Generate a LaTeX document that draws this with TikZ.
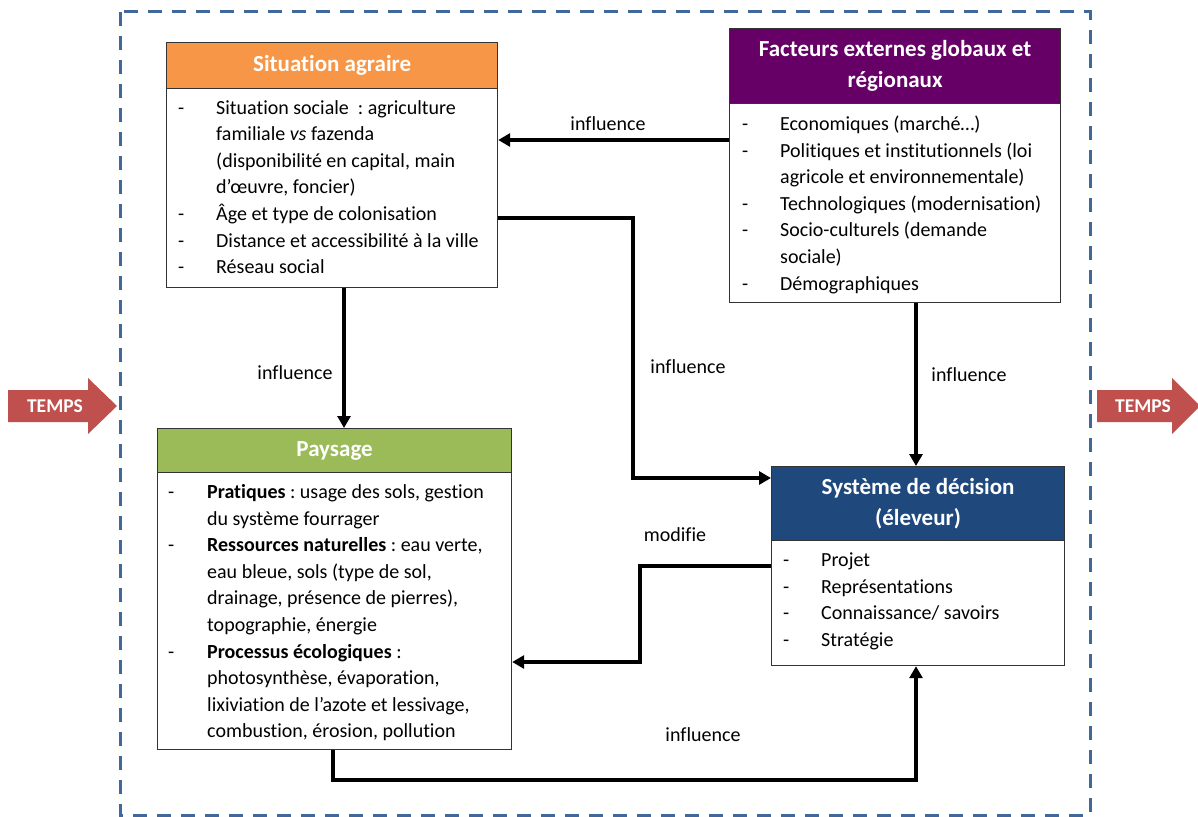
\documentclass[tikz,border=0pt]{standalone}
\usepackage{fontspec}
\setmainfont{Carlito}[Ligatures=NoCommon]
\usetikzlibrary{arrows.meta}
\definecolor{cOr}{HTML}{F79646}
\definecolor{cPu}{HTML}{660066}
\definecolor{cGr}{HTML}{9BBB59}
\definecolor{cNa}{HTML}{1F497D}
\definecolor{cRe}{HTML}{C0504D}
\definecolor{cDa}{HTML}{41689A}
\frenchspacing
\begin{document}
\begin{tikzpicture}[x=1pt,y=-1pt,
  hdr/.style={draw=black!80, line width=1.2pt, text=white, font=\fontsize{23}{31}\selectfont\bfseries, align=center, inner sep=0pt, anchor=north west},
  bodybox/.style={draw=black!80, line width=1.2pt, fill=white, inner sep=0pt, anchor=north west},
  txt/.style={anchor=base west, inner sep=0pt, font=\fontsize{20}{26.6}\selectfont},
  lbl/.style={font=\fontsize{20}{24}\selectfont, inner sep=0pt},
  arr/.style={line width=3.5pt, -{Triangle[length=12pt,width=13pt]}},
  temps/.style={fill=cRe},
  tempstxt/.style={text=white, font=\fontsize{19.5}{21}\selectfont\bfseries, inner sep=0pt}
]
\useasboundingbox (0,0) rectangle (1198,816);
% dashed frame
\draw[cDa, line width=3pt, dash pattern=on 14pt off 10pt] (120,12) rectangle (1090,815);

% TEMPS arrows
\fill[temps] (8,390) -- (88,390) -- (88,378) -- (117,406) -- (88,434) -- (88,422) -- (8,422) -- cycle;
\node[tempstxt] (t1) at (55,406) {TEMPS};
\fill[temps] (1097,390) -- (1172,390) -- (1172,378) -- (1200,406) -- (1172,434) -- (1172,422) -- (1097,422) -- cycle;
\node[tempstxt] (t2) at (1143,406) {TEMPS};

% Box 1: Situation agraire
\node[hdr, fill=cOr, minimum width=331pt, minimum height=46pt] (h1) at (166,42) {Situation agraire};
\node[bodybox, minimum width=331pt, minimum height=199pt] (b1) at (166,88) {};
\node[txt] (x1) at (178,114) {\begin{tabular}[t]{@{}p{38pt}@{}l@{}}
- & Situation sociale\ \ : agriculture\\
  & familiale \textit{vs} fazenda\\
  & (disponibilité en capital, main\\
  & d’œuvre, foncier)\\
- & Âge et type de colonisation\\
- & Distance et accessibilité à la ville\\
- & Réseau social
\end{tabular}};

% Box 2: Facteurs externes
\node[hdr, fill=cPu, minimum width=331pt, minimum height=75pt] (h2) at (729,28) {Facteurs externes globaux et\\régionaux};
\node[bodybox, minimum width=331pt, minimum height=199pt] (b2) at (729,103) {};
\node[txt] (x2) at (742,130.5) {\begin{tabular}[t]{@{}p{38pt}@{}l@{}}
- & Economiques (marché…)\\
- & Politiques et institutionnels (loi\\
  & agricole et environnementale)\\
- & Technologiques (modernisation)\\
- & Socio-culturels (demande\\
  & sociale)\\
- & Démographiques
\end{tabular}};

% Box 3: Paysage
\node[hdr, fill=cGr, minimum width=354pt, minimum height=44pt] (h3) at (157,428) {Paysage};
\node[bodybox, minimum width=354pt, minimum height=277pt] (b3) at (157,472) {};
\node[txt] (x3) at (168,498.5) {\begin{tabular}[t]{@{}p{39pt}@{}l@{}}
- & \textbf{Pratiques} : usage des sols, gestion\\
  & du système fourrager\\
- & \textbf{Ressources naturelles} : eau verte,\\
  & eau bleue, sols (type de sol,\\
  & drainage, présence de pierres),\\
  & topographie, énergie\\
- & \textbf{Processus écologiques} :\\
  & photosynthèse, évaporation,\\
  & lixiviation de l’azote et lessivage,\\
  & combustion, érosion, pollution
\end{tabular}};

% Box 4: Système de décision
\node[hdr, fill=cNa, minimum width=293pt, minimum height=74pt] (h4) at (771,466) {Système de décision\\(éleveur)};
\node[bodybox, minimum width=293pt, minimum height=125pt] (b4) at (771,540) {};
\node[txt] (x4) at (783,566.5) {\begin{tabular}[t]{@{}p{38pt}@{}l@{}}
- & Projet\\
- & Représentations\\
- & Connaissance/ savoirs\\
- & Stratégie
\end{tabular}};

% connectors
\draw[arr] (b2.west |- 0,140) -- (b1.east |- 0,140);
\node[lbl] (l1) at (608,124) {influence};

\draw[arr] (344,0 |- b1.south) -- (344,0 |- h3.north);
\node[lbl] (l2) at (295,373) {influence};

\draw[arr] (b1.east |- 0,218) -- (633,218) -- (633,478) -- (h4.west |- 0,478);
\node[lbl] (l3) at (688,367) {influence};

\draw[arr] (916,0 |- b2.south) -- (916,0 |- h4.north);
\node[lbl] (l4) at (969,375) {influence};

\draw[arr] (b4.west |- 0,566) -- (640,566) -- (640,662) -- (b3.east |- 0,662);
\node[lbl] (l5) at (675,535) {modifie};

\draw[arr] (333,0 |- b3.south) -- (333,780) -- (916,780) -- (916,0 |- b4.south);
\node[lbl] (l6) at (703,735) {influence};
\end{tikzpicture}
\end{document}
